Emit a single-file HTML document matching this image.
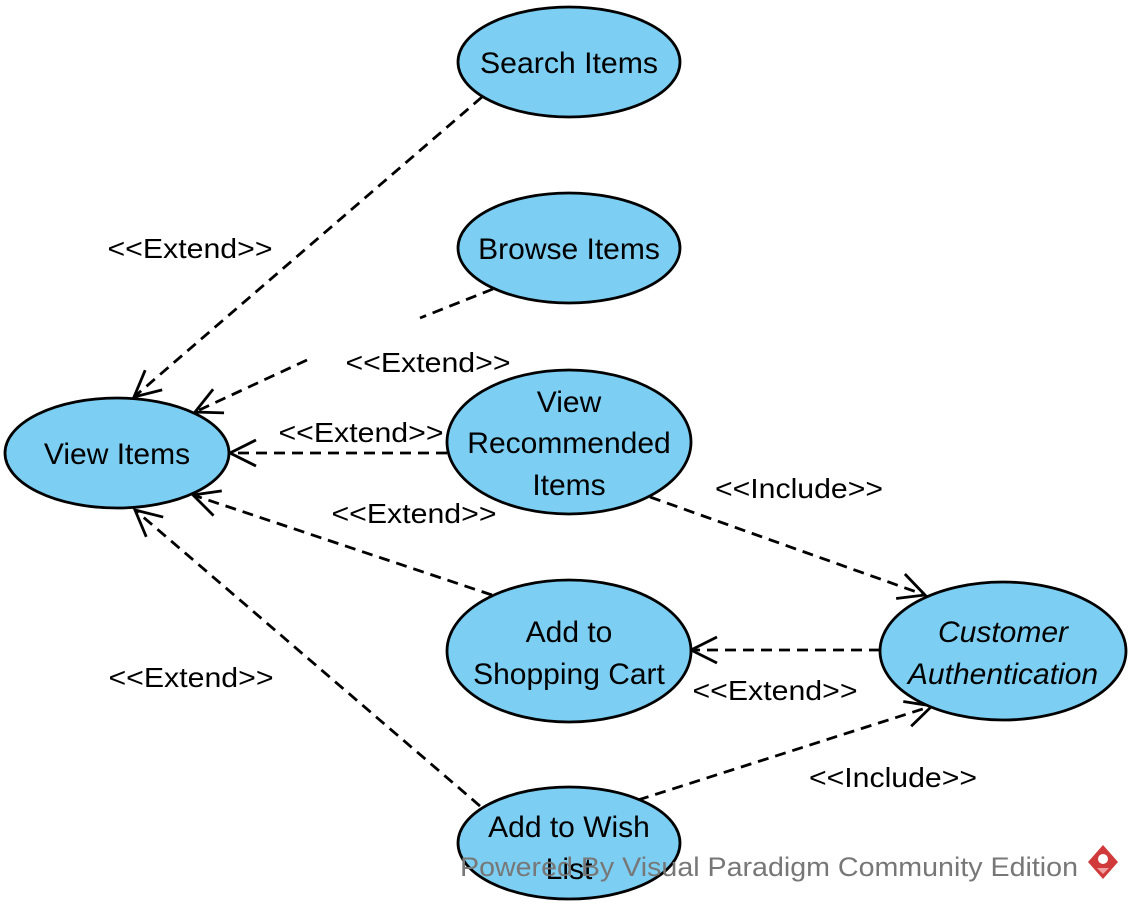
<!DOCTYPE html>
<html><head><meta charset="utf-8"><style>
html,body{margin:0;padding:0;background:#fff;}
svg{display:block;}
text{font-family:"Liberation Sans",sans-serif;}
</style></head><body>
<svg width="1137" height="912" viewBox="0 0 1137 912" xmlns="http://www.w3.org/2000/svg">
<defs>
<marker id="a" markerUnits="userSpaceOnUse" markerWidth="40" markerHeight="40" refX="30" refY="20" orient="auto">
<path d="M4,7 L30,20 L4,33" fill="none" stroke="#000" stroke-width="2.8"/>
</marker>
</defs>
<g stroke="#000" stroke-width="2.8" fill="none" stroke-dasharray="11,7">
<line x1="482" y1="97" x2="134" y2="397" marker-end="url(#a)"/>
<line x1="493" y1="289" x2="420" y2="318"/>
<line x1="307" y1="360" x2="195" y2="412" marker-end="url(#a)"/>
<line x1="447" y1="453" x2="230" y2="453" marker-end="url(#a)"/>
<line x1="492" y1="595" x2="193" y2="495" marker-end="url(#a)"/>
<line x1="480" y1="806" x2="135" y2="510" marker-end="url(#a)"/>
<line x1="650" y1="497" x2="925" y2="595" marker-end="url(#a)"/>
<line x1="880" y1="650" x2="691" y2="650" marker-end="url(#a)"/>
<line x1="638" y1="800" x2="932" y2="706" marker-end="url(#a)"/>
</g>
<g fill="#7ccff3" stroke="#000" stroke-width="2.8">
<ellipse cx="569" cy="62" rx="111" ry="55"/>
<ellipse cx="569" cy="248" rx="111" ry="55"/>
<ellipse cx="117" cy="453" rx="112" ry="55"/>
<ellipse cx="569" cy="442" rx="122" ry="72"/>
<ellipse cx="569" cy="651" rx="122" ry="71"/>
<ellipse cx="1003" cy="651" rx="123" ry="69"/>
<ellipse cx="569" cy="843" rx="111" ry="56"/>
</g>
<g font-size="30" text-anchor="middle" fill="#000">
<text x="569" y="73" textLength="178" lengthAdjust="spacingAndGlyphs">Search Items</text>
<text x="569" y="259">Browse Items</text>
<text x="117" y="464">View Items</text>
<text x="569" y="412">View</text>
<text x="569" y="453">Recommended</text>
<text x="569" y="495">Items</text>
<text x="569" y="642">Add to</text>
<text x="569" y="684">Shopping Cart</text>
<text x="1003" y="642" font-style="italic">Customer</text>
<text x="1003" y="684" font-style="italic">Authentication</text>
<text x="569" y="837">Add to Wish</text>
<text x="569" y="879">List</text>
</g>
<g font-size="28" text-anchor="middle" fill="#000" lengthAdjust="spacingAndGlyphs">
<text x="190" y="258" textLength="165" lengthAdjust="spacingAndGlyphs">&lt;&lt;Extend&gt;&gt;</text>
<text x="428" y="372" textLength="165" lengthAdjust="spacingAndGlyphs">&lt;&lt;Extend&gt;&gt;</text>
<text x="361" y="442" textLength="165" lengthAdjust="spacingAndGlyphs">&lt;&lt;Extend&gt;&gt;</text>
<text x="414" y="523" textLength="165" lengthAdjust="spacingAndGlyphs">&lt;&lt;Extend&gt;&gt;</text>
<text x="191" y="687" textLength="165" lengthAdjust="spacingAndGlyphs">&lt;&lt;Extend&gt;&gt;</text>
<text x="799" y="498" textLength="168" lengthAdjust="spacingAndGlyphs">&lt;&lt;Include&gt;&gt;</text>
<text x="775" y="700" textLength="165" lengthAdjust="spacingAndGlyphs">&lt;&lt;Extend&gt;&gt;</text>
<text x="893" y="787" textLength="168" lengthAdjust="spacingAndGlyphs">&lt;&lt;Include&gt;&gt;</text>
</g>
<text x="460" y="876" font-size="27" fill="#777" textLength="618" lengthAdjust="spacingAndGlyphs">Powered By Visual Paradigm Community Edition</text>
<g transform="translate(1103,862)">
<path d="M0,-17 L15,0 L0,17 L-15,0 Z" fill="#d03a3a"/>
<circle cx="0" cy="-3" r="5" fill="#fff"/>
<path d="M-6,6 L6,6 L0,12 Z" fill="#f0a0a0"/>
</g>
</svg>
</body></html>
